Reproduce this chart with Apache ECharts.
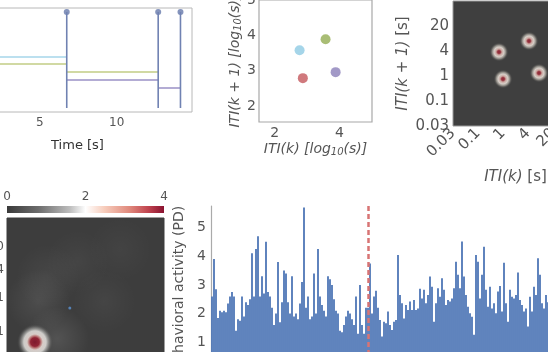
<!DOCTYPE html>
<html>
<head>
<meta charset="utf-8">
<script src="https://cdn.jsdelivr.net/npm/echarts@6/dist/echarts.min.js"></script>
<style>
html,body{margin:0;padding:0;background:#fff}
#chart{width:548px;height:352px}
</style>
</head>
<body>
<div id="chart"></div>
<script>
// --- panel A : event raster, time in s ---
var eventTimes = [6.75, 12.7, 14.15];
var stemBottom = 4, stemTop = 100;
var segStart = [0, 0, 6.75, 6.75, 12.7];
var segEnd   = [6.75, 6.75, 12.7, 12.7, 14.15];
var segLevel = [55, 48, 40, 32, 24];
var segKind  = ['blue', 'green', 'green', 'purple', 'purple'];

// --- panel B : ITI return map (log10) ---
var itiK  = [2.77, 3.57, 2.87, 3.88];
var itiK1 = [3.58, 3.89, 2.79, 2.96];
var itiKind = ['blue', 'green', 'red', 'purple'];

// --- panel C : smoothed return map ---
var cTickText = ['0.03', '0.1', '1', '4', '20'];
var cBlobX = [1.84, 2.0, 3.04, 3.44];
var cBlobY = [2.96, 1.88, 3.4, 2.12];

// --- panel D : density map + colorbar ---
var cbarTicks = [0, 2, 4];
var dTickPos  = [0.274, 0.49, 0.669, 0.815];
var dTickText = ['0.1', '1', '4', '20'];
var dPeak = [[0.178, 0.21]];
var dGlow = [[0.2, 0.47, 0.1], [0.32, 0.23, 0.14], [0.45, 0.72, 0.05], [0.72, 0.8, 0.04], [0.62, 0.47, 0.05], [0.26, 0.63, 0.06]];
var dCurrent = [[0.40, 0.427]];

// --- panel E : behavioural activity ---
var activity = [
  2.6, 3.9, 2.85, 1.85, 2.1, 2.05, 2.1, 2.05, 2.35, 2.6, 2.75, 2.6, 1.4, 1.8, 1.75, 2.6, 1.9, 2.4, 2.3, 2.5,
  4.1, 2.6, 4.25, 4.7, 2.6, 3.3, 2.7, 4.5, 2.75, 2.6, 2.2, 1.6, 2.0, 3.8, 1.7, 2.4, 3.5, 3.4, 2.4, 2.0,
  3.3, 1.9, 2.0, 1.8, 2.35, 3.1, 5.7, 2.2, 2.6, 1.8, 1.9, 3.4, 2.0, 4.25, 2.6, 2.3, 2.1, 1.9, 3.3, 3.2,
  3.0, 2.5, 2.1, 2.0, 1.4, 1.35, 1.6, 1.9, 2.1, 2.0, 1.8, 1.6, 2.6, 1.3, 3.0, 1.6, 1.3, 2.2, 2.2, 3.75,
  2.0, 2.6, 2.8, 2.2,
  1.78, 1.2, 1.72, 1.66, 2.07, 1.6, 1.43, 1.72, 1.78, 4.04, 2.65, 2.36, 1.83, 2.3, 2.13, 2.42, 2.13, 2.47,
  2.13, 2.18, 2.87, 2.53, 2.83, 2.36, 2.65, 3.29, 2.94, 1.72, 2.36, 2.88, 2.59, 3.23, 2.83, 2.3, 2.47, 2.42,
  2.53, 2.88, 3.81, 3.35, 2.88, 4.51, 3.29, 2.65, 2.24, 2.01, 1.89, 1.26, 4.04, 3.81, 2.53, 3.35, 4.33, 2.83,
  2.24, 2.94, 2.18, 2.36, 2.01, 2.77, 2.96, 2.07, 3.77, 2.36, 1.72, 2.83, 2.59, 2.53, 2.65, 3.43, 2.47, 2.3,
  2.07, 2.18, 1.55, 2.59, 2.07, 2.94, 2.65, 3.93, 3.35, 2.36, 2.18, 2.65, 2.4, 2.1
];
var markIndex = 78;
var activityTicks = [1, 2, 3, 4, 5];

// colours
var pal = {blue: '#8ecbe4', green: '#93ad52', red: '#c4575c', purple: '#8b80b9'};
var lineCol = {blue: '#a6d6ea', green: '#c2cc84', purple: '#9a91c6'};
var txt = '#555';
var font = 'DejaVu Sans';

function blob(stops) {
  return new echarts.graphic.RadialGradient(0.5, 0.5, 0.5, stops.map(function (s) {
    return {offset: s[0], color: s[1]};
  }));
}
function nearestLabel(pos, text) {
  return function (v) {
    for (var i = 0; i < pos.length; i++) if (Math.abs(pos[i] - v) < 1e-6) return text[i];
    return '';
  };
}

var series = [];
// A: ITI segments
for (var i = 0; i < segStart.length; i++) {
  series.push({
    type: 'line', xAxisIndex: 0, yAxisIndex: 0, symbol: 'none', silent: true,
    data: [[segStart[i], segLevel[i]], [segEnd[i], segLevel[i]]],
    lineStyle: {color: lineCol[segKind[i]], width: 1.5}
  });
}
// A: stems
eventTimes.forEach(function (t) {
  series.push({
    type: 'line', xAxisIndex: 0, yAxisIndex: 0, symbol: 'none', silent: true,
    data: [[t, stemBottom], [t, stemTop]],
    lineStyle: {color: '#7082b2', width: 1.6}
  });
});
series.push({
  type: 'scatter', xAxisIndex: 0, yAxisIndex: 0, symbolSize: 6,
  itemStyle: {color: '#6679ab'},
  data: eventTimes.map(function (t) { return [t, stemTop]; })
});
// B: return map points
series.push({
  type: 'scatter', xAxisIndex: 1, yAxisIndex: 1, symbolSize: 10,
  data: itiK.map(function (x, i) {
    return {value: [x, itiK1[i]], itemStyle: {color: pal[itiKind[i]]}};
  })
});
// C: smoothed blobs
series.push({
  type: 'scatter', xAxisIndex: 2, yAxisIndex: 2, symbolSize: 19,
  itemStyle: {color: blob([[0, '#9c1a30'], [0.16, '#b23a46'], [0.32, '#efc6bd'], [0.52, '#fbf2ea'],
    [0.72, 'rgba(225,218,205,0.6)'], [1, 'rgba(63,63,63,0)']])},
  data: cBlobX.map(function (x, i) { return [x, cBlobY[i]]; })
});
// D: colorbar
series.push({
  type: 'bar', xAxisIndex: 3, yAxisIndex: 3, barWidth: '100%', silent: true,
  data: [cbarTicks[cbarTicks.length - 1]],
  itemStyle: {color: new echarts.graphic.LinearGradient(0, 0, 1, 0, [
    {offset: 0, color: '#3a3a3a'}, {offset: 0.2, color: '#6c6c6c'}, {offset: 0.4, color: '#bdbdbd'},
    {offset: 0.5, color: '#ffffff'}, {offset: 0.62, color: '#f7cdbc'}, {offset: 0.78, color: '#e0897c'},
    {offset: 0.9, color: '#c0444f'}, {offset: 1, color: '#8a1230'}])}
});
// D: density glow, peak, current point
series.push({
  type: 'scatter', xAxisIndex: 4, yAxisIndex: 4, symbolSize: 64, silent: true,
  data: dGlow.map(function (g) {
    return {value: [g[0], g[1]], itemStyle: {color: blob([[0, 'rgba(255,255,255,' + g[2] + ')'],
      [0.5, 'rgba(255,255,255,' + (g[2] * 0.5) + ')'], [1, 'rgba(255,255,255,0)']])}};
  })
});
series.push({
  type: 'scatter', xAxisIndex: 4, yAxisIndex: 4, symbolSize: 36,
  itemStyle: {color: blob([[0, '#8c1028'], [0.24, '#a51d32'], [0.34, '#d98a88'], [0.44, '#fbeee8'],
    [0.62, '#f1efeb'], [0.8, 'rgba(200,200,196,0.45)'], [1, 'rgba(61,61,61,0)']])},
  data: dPeak
});
series.push({
  type: 'scatter', xAxisIndex: 4, yAxisIndex: 4, symbolSize: 3,
  itemStyle: {color: '#5d93d4'}, data: dCurrent
});
// E: activity bars
series.push({
  type: 'bar', xAxisIndex: 5, yAxisIndex: 5, barCategoryGap: '8%',
  itemStyle: {color: '#5279b8'},
  data: activity,
  markLine: {
    silent: true, symbol: ['none', 'none'], label: {show: false},
    lineStyle: {color: '#d87474', type: [5, 3], width: 2.5},
    data: [{xAxis: String(markIndex)}]
  }
});

var noLine = {show: false};
var rich = {
  i: {fontFamily: font, fontStyle: 'italic', fontSize: 14, color: txt},
  n: {fontFamily: font, fontSize: 14, color: txt},
  s: {fontFamily: font, fontStyle: 'italic', fontSize: 10, color: txt, verticalAlign: 'bottom', padding: [6, 0, 0, 0]},
  ci: {fontFamily: font, fontStyle: 'italic', fontSize: 15, color: txt},
  cn: {fontFamily: font, fontSize: 15, color: txt}
};

var option = {
  animation: false,
  backgroundColor: '#fff',
  textStyle: {fontFamily: font},
  grid: [
    {left: -37, right: 356, top: 8, bottom: 240, show: true, borderColor: '#b8b8b8', borderWidth: 1, outerBoundsMode: 'none', containLabel: false},
    {left: 259, right: 176, top: 0, bottom: 230, show: true, borderColor: '#a8a8a8', borderWidth: 1.2, outerBoundsMode: 'none', containLabel: false},
    {left: 453, width: 125, top: 1, height: 125, show: true, backgroundColor: '#3f3f3f', borderColor: '#9a9a9a', borderWidth: 1, outerBoundsMode: 'none', containLabel: false},
    {left: 7, width: 157, top: 206, height: 7, outerBoundsMode: 'none', containLabel: false},
    {left: 7, width: 157, top: 218, height: 157, show: true, backgroundColor: '#3d3d3d', borderColor: '#3d3d3d', outerBoundsMode: 'none', containLabel: false},
    {left: 211, right: -3, top: 206, bottom: -19, outerBoundsMode: 'none', containLabel: false}
  ],
  xAxis: [
    {gridIndex: 0, type: 'value', min: 0, max: 14.9, axisLine: noLine, axisTick: noLine, splitLine: noLine,
     axisLabel: {customValues: [5, 10], color: txt, fontSize: 12, margin: 5},
     name: 'Time [s]', nameLocation: 'middle', nameGap: 27, nameTextStyle: {color: '#333', fontSize: 13}},
    {gridIndex: 1, type: 'value', min: 1.52, max: 5.0, axisLine: noLine, axisTick: noLine, splitLine: noLine,
     axisLabel: {customValues: [2, 4], color: txt, fontSize: 14, margin: 4},
     name: '{i|ITI(k) [log}{s|10}{i|(s)]}', nameLocation: 'middle', nameGap: 19, nameTextStyle: {rich: rich}},
    {gridIndex: 2, type: 'value', min: 0, max: 5, axisLine: noLine, axisTick: noLine, splitLine: noLine,
     axisLabel: {customValues: [0, 1, 2, 3, 4], rotate: 45, color: txt, fontSize: 15, margin: 5,
                 formatter: nearestLabel([0, 1, 2, 3, 4], cTickText)},
     name: '{ci|ITI(k)}{cn| [s]}', nameLocation: 'middle', nameGap: 44, nameTextStyle: {rich: rich}},
    {gridIndex: 3, type: 'value', min: 0, max: 4, position: 'top', axisLine: noLine, axisTick: noLine, splitLine: noLine,
     axisLabel: {customValues: cbarTicks, color: txt, fontSize: 12, margin: 3}},
    {gridIndex: 4, type: 'value', min: 0, max: 1, show: false},
    {gridIndex: 5, type: 'category', data: activity.map(function (v, i) { return String(i); }), show: false}
  ],
  yAxis: [
    {gridIndex: 0, type: 'value', min: 0, max: 104, show: false},
    {gridIndex: 1, type: 'value', min: 1.55, max: 5.0, axisLine: noLine, axisTick: noLine, splitLine: noLine,
     axisLabel: {customValues: [2, 3, 4, 5], color: txt, fontSize: 14, margin: 3},
     name: '{i|ITI(k + 1) [log}{s|10}{i|(s)]}', nameLocation: 'middle', nameGap: 13, nameTextStyle: {rich: rich}},
    {gridIndex: 2, type: 'value', min: 0, max: 5, axisLine: noLine, axisTick: noLine, splitLine: noLine,
     axisLabel: {customValues: [0, 1, 2, 3, 4], color: txt, fontSize: 15, margin: 4,
                 formatter: nearestLabel([0, 1, 2, 3, 4], cTickText)},
     name: '{ci|ITI(k + 1)}{cn| [s]}', nameLocation: 'middle', nameGap: 42, nameTextStyle: {rich: rich}},
    {gridIndex: 3, type: 'category', data: ['cbar'], show: false},
    {gridIndex: 4, type: 'value', min: 0, max: 1, axisLine: noLine, axisTick: noLine, splitLine: noLine,
     axisLabel: {customValues: dTickPos, color: txt, fontSize: 12, margin: 3, formatter: nearestLabel(dTickPos, dTickText)}},
    {gridIndex: 5, type: 'value', min: 0, max: 5.75, splitLine: noLine, axisTick: noLine,
     axisLine: {show: true, lineStyle: {color: '#aaa', width: 1.2}},
     axisLabel: {customValues: activityTicks, color: txt, fontSize: 14, margin: 5},
     name: 'Behavioral activity (PD)', nameLocation: 'middle', nameGap: 19, nameTextStyle: {color: txt, fontSize: 14}}
  ],
  series: series
};

var myChart = echarts.init(document.getElementById('chart'));
myChart.setOption(option);
</script>
</body>
</html>
